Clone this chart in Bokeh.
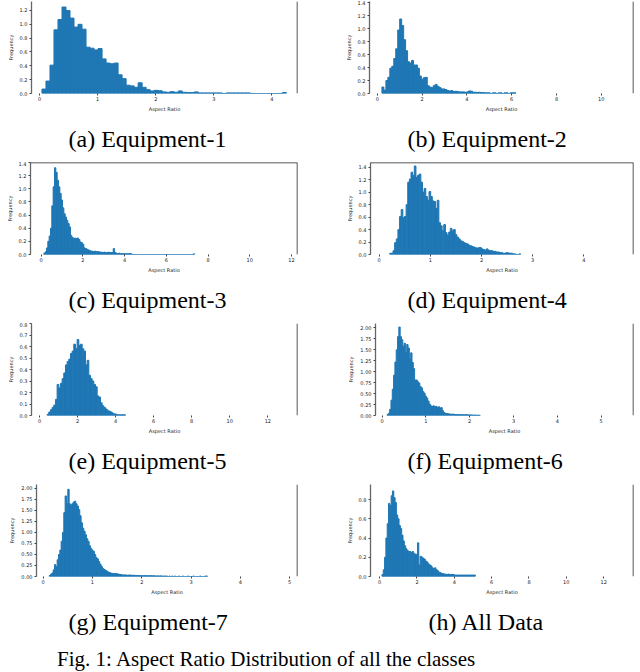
from bokeh.plotting import figure
from bokeh.layouts import column, row
from bokeh.models import (Div, Span, FixedTicker, PrintfTickFormatter,
                          Range1d, Title, ColumnDataSource)
from bokeh.embed import file_html
from bokeh.resources import INLINE

# ---------------- data (bin heights) ----------------
captions = ["(a) Equipment-1", "(b) Equipment-2", "(c) Equipment-3", "(d) Equipment-4",
            "(e) Equipment-5", "(f) Equipment-6", "(g) Equipment-7", "(h) All Data"]
fig_caption = "Fig. 1: Aspect Ratio Distribution of all the classes"
x_label = "Aspect Ratio"
y_label = "Frequency"

a_start, a_width = 0.04, 0.069
a_heights = [0.064, 0.18, 0.41, 0.92, 1.07, 1.25, 1.20, 1.09, 0.96, 1.00, 0.93, 0.67,
             0.655, 0.63, 0.65, 0.50, 0.44, 0.43, 0.44, 0.27, 0.215, 0.12, 0.11, 0.09,
             0.155, 0.09, 0.055, 0.037, 0.046, 0.04, 0.023, 0.018, 0.027, 0.018, 0.037,
             0.018, 0.014, 0.014, 0.023, 0.009, 0.009, 0.009, 0.009, 0.009, 0.009, 0.0,
             0.009, 0.009, 0.009, 0.009, 0.009, 0.009, 0.0, 0.0, 0.0, 0.0, 0.0, 0.0, 0.0,
             0.0, 0.014]
a_xticks = [0, 1, 2, 3, 4]
a_yticks = [0.0, 0.2, 0.4, 0.6, 0.8, 1.0, 1.2]

b_start, b_width = 0.206, 0.088
b_heights = [0.1, 0.05, 0.2, 0.25, 0.39, 0.42, 0.54, 0.69, 0.98, 1.15, 1.05, 0.83, 0.66,
             0.49, 0.47, 0.51, 0.44, 0.44, 0.39, 0.27, 0.22, 0.245, 0.25, 0.12, 0.1, 0.09,
             0.12, 0.14, 0.11, 0.09, 0.07, 0.07, 0.06, 0.045, 0.04, 0.045, 0.03, 0.035,
             0.03, 0.025, 0.025, 0.025, 0.02, 0.025, 0.04, 0.035, 0.02, 0.02, 0.015, 0.02,
             0.015, 0.015, 0.01, 0.01, 0.01, 0.0, 0.01, 0.01, 0.0, 0.01, 0.01, 0.0, 0.01,
             0.01, 0.0, 0.01, 0.01, 0.01]
b_xticks = [0, 2, 4, 6, 8, 10]
b_yticks = [0.0, 0.2, 0.4, 0.6, 0.8, 1.0, 1.2, 1.4]

c_start, c_width = 0.128, 0.064
c_heights = [0.02, 0.04, 0.1, 0.2, 0.28, 0.4, 0.74, 1.03, 1.32, 1.25, 1.13, 1.03, 0.93,
             0.83, 0.71, 0.62, 0.57, 0.52, 0.47, 0.42, 0.29, 0.26, 0.24, 0.25, 0.24, 0.25,
             0.23, 0.19, 0.18, 0.155, 0.1, 0.09, 0.08, 0.07, 0.06, 0.05, 0.05, 0.045, 0.05,
             0.04, 0.045, 0.04, 0.035, 0.035, 0.03, 0.035, 0.03, 0.03, 0.035, 0.03, 0.03,
             0.03, 0.09, 0.03, 0.02, 0.015, 0.02, 0.01, 0.015, 0.01, 0.015, 0.01, 0.01,
             0.01, 0.015, 0.01,
             0.0, 0.0, 0.0, 0.0, 0.0, 0.0, 0.0, 0.0, 0.0, 0.0, 0.0, 0.0, 0.0, 0.0, 0.0, 0.0,
             0.0, 0.0, 0.0, 0.0, 0.0, 0.0, 0.0, 0.0, 0.0, 0.0, 0.0, 0.0, 0.0, 0.0, 0.0, 0.0,
             0.0, 0.0, 0.0, 0.0, 0.0, 0.0, 0.0, 0.0, 0.0, 0.0, 0.0, 0.0, 0.0, 0.0, 0.01]
c_xticks = [0, 2, 4, 6, 8, 10, 12]
c_yticks = [0.0, 0.2, 0.4, 0.6, 0.8, 1.0, 1.2, 1.4]

d_start, d_width = 0.206, 0.032
d_heights = [0.02, 0.02, 0.06, 0.19, 0.25, 0.4, 0.61, 0.72, 0.59, 0.61, 0.8, 1.16, 1.21,
             1.32, 1.27, 1.42, 1.24, 1.27, 1.29, 1.16, 1.0, 1.06, 0.93, 0.87, 1.01, 0.93,
             0.86, 0.85, 0.74, 0.87, 0.51, 0.46, 0.38, 0.48, 0.35, 0.31, 0.36, 0.42, 0.38,
             0.4, 0.32, 0.28, 0.25, 0.22, 0.21, 0.19, 0.18, 0.17, 0.15, 0.14, 0.13, 0.12,
             0.11, 0.10, 0.11, 0.11, 0.09, 0.08, 0.07, 0.09, 0.07, 0.06, 0.06, 0.05, 0.05,
             0.04, 0.04, 0.03, 0.03, 0.02, 0.02, 0.03, 0.025, 0.02, 0.02, 0.01, 0.01, 0.0,
             0.0, 0.01]
d_xticks = [0, 1, 2, 3, 4, 5]
d_yticks = [0.0, 0.2, 0.4, 0.6, 0.8, 1.0, 1.2, 1.4]

e_start, e_width = 0.40, 0.0877
e_heights = [0.01, 0.03, 0.05, 0.07, 0.09, 0.14, 0.27, 0.24, 0.28, 0.32, 0.37, 0.44, 0.47,
             0.49, 0.54, 0.56, 0.62, 0.58, 0.66, 0.61, 0.62, 0.58, 0.56, 0.44, 0.48, 0.35,
             0.32, 0.30, 0.27, 0.25, 0.17, 0.16, 0.11, 0.085, 0.07, 0.056, 0.042, 0.037,
             0.03, 0.02, 0.014, 0.011, 0.006, 0.006, 0.006, 0.006, 0.006]
e_xticks = [0, 2, 4, 6, 8, 10, 12]
e_yticks = [0.0, 0.1, 0.2, 0.3, 0.4, 0.5, 0.6, 0.7, 0.8]

f_start, f_width = 0.113, 0.030
f_heights = [0.02, 0.05, 0.14, 0.35, 0.6, 0.92, 1.22, 1.5, 1.8, 2.02, 1.80, 1.73, 1.58,
             1.65, 1.43, 1.62, 1.54, 1.29, 1.43, 1.21, 1.07, 0.81, 0.81, 0.77, 0.74, 0.66,
             0.63, 0.55, 0.51, 0.44, 0.40, 0.33, 0.26, 0.22, 0.21, 0.22, 0.2, 0.21, 0.18,
             0.2, 0.17, 0.18, 0.11, 0.07, 0.05, 0.045, 0.04, 0.035, 0.03, 0.03, 0.03, 0.025,
             0.02, 0.02, 0.02, 0.02, 0.015, 0.02, 0.015, 0.015, 0.02, 0.015, 0.01, 0.015,
             0.01, 0.01, 0.01, 0.01, 0.005, 0.01, 0.005]
f_xticks = [0, 1, 2, 3, 4, 5]
f_yticks = [0.0, 0.25, 0.5, 0.75, 1.0, 1.25, 1.5, 1.75, 2.0]

g_start, g_width = 0.122, 0.027
g_heights = [0.02, 0.05, 0.08, 0.15, 0.27, 0.22, 0.38, 0.5, 0.6, 0.8, 1.0, 1.45, 1.83,
             1.65, 1.98, 1.65, 1.62, 1.65, 1.69, 1.71, 1.65, 1.6, 1.52, 1.38, 1.22, 1.1,
             1.03, 0.95, 0.86, 0.8, 0.7, 0.64, 0.6, 0.57, 0.5, 0.43, 0.4, 0.34, 0.28, 0.23,
             0.18, 0.16, 0.14, 0.12, 0.1, 0.09, 0.075, 0.07, 0.065, 0.07, 0.06, 0.06, 0.05,
             0.045, 0.04, 0.035, 0.035, 0.035, 0.03, 0.03, 0.035, 0.03, 0.025, 0.03, 0.025,
             0.02, 0.025, 0.02, 0.02, 0.015, 0.02, 0.02, 0.015, 0.02, 0.015, 0.015, 0.02,
             0.015, 0.015, 0.015, 0.01, 0.015, 0.01, 0.015, 0.01, 0.01, 0.01, 0.01, 0.01,
             0.0, 0.01, 0.0, 0.01, 0.0, 0.01, 0.0, 0.0, 0.01, 0.0, 0.0, 0.01, 0.0, 0.0, 0.0,
             0.01, 0.0, 0.0, 0.0, 0.01, 0.0, 0.0, 0.0, 0.0, 0.01, 0.0, 0.0, 0.0, 0.01, 0.01]
g_xticks = [0, 1, 2, 3, 4, 5]
g_yticks = [0.0, 0.25, 0.5, 0.75, 1.0, 1.25, 1.5, 1.75, 2.0]

h_start, h_width = 0.123, 0.0705
h_heights = [0.02, 0.07, 0.2, 0.4, 0.55, 0.76, 0.74, 0.84, 0.89, 0.82, 0.77, 0.64, 0.6,
             0.53, 0.5, 0.43, 0.37, 0.32, 0.29, 0.27, 0.26, 0.26, 0.25, 0.26, 0.24, 0.23,
             0.23, 0.35, 0.12, 0.21, 0.2, 0.19, 0.18, 0.16, 0.15, 0.13, 0.12, 0.11, 0.09,
             0.08, 0.09, 0.07, 0.06, 0.045, 0.04, 0.03, 0.03, 0.025, 0.025, 0.02, 0.025,
             0.02, 0.02, 0.02, 0.02, 0.015, 0.015, 0.015, 0.015, 0.015, 0.015, 0.015, 0.015,
             0.015, 0.015, 0.015, 0.015, 0.015, 0.015, 0.015, 0.015]
h_xticks = [0, 2, 4, 6, 8, 10, 12]
h_yticks = [0.0, 0.2, 0.4, 0.6, 0.8]

# ---------------- styling ----------------
BLUE = "#1f77b4"
TICK_FONT = "DejaVu Sans"
CAP_FONT = "Liberation Serif"
ROW_H = 161


def make_panel(caption, start, width, heights, xr, yr, xticks, yticks, yfmt,
               w, bl, br, top_line, cap_offset):
    n = len(heights)
    lefts = [start + i * width for i in range(n)]
    src = ColumnDataSource(dict(left=lefts, right=[x + width for x in lefts],
                                top=heights, bottom=[0.0] * n))
    p = figure(width=w, height=ROW_H, x_range=Range1d(xr[0], xr[1]),
               y_range=Range1d(yr[0], yr[1]), output_backend="svg",
               toolbar_location=None, min_border_left=bl, min_border_right=br,
               min_border_top=1, min_border_bottom=65)
    p.quad(left="left", right="right", top="top", bottom="bottom", source=src,
           fill_color=BLUE, line_color=BLUE, line_width=1.0)
    p.grid.visible = False
    p.outline_line_color = None

    xa = p.xaxis[0]
    xa.ticker = FixedTicker(ticks=xticks)
    xa.axis_line_color = None
    xa.major_tick_line_color = "#444444"
    xa.major_tick_out = 2
    xa.major_tick_in = 0
    xa.minor_tick_line_color = None
    xa.major_label_text_font = TICK_FONT
    xa.major_label_text_font_size = "5px"
    xa.major_label_text_color = "#222222"
    xa.major_label_standoff = 1
    xa.axis_label = x_label
    xa.axis_label_text_font = TICK_FONT
    xa.axis_label_text_font_size = "5px"
    xa.axis_label_text_font_style = "normal"
    xa.axis_label_text_color = "#222222"
    xa.axis_label_standoff = 2

    ya = p.yaxis[0]
    ya.ticker = FixedTicker(ticks=yticks)
    ya.formatter = PrintfTickFormatter(format=yfmt)
    ya.axis_line_color = "#666666"
    ya.axis_line_width = 1.3
    ya.major_tick_line_color = "#444444"
    ya.major_tick_out = 2
    ya.major_tick_in = 0
    ya.minor_tick_line_color = None
    ya.major_label_text_font = TICK_FONT
    ya.major_label_text_font_size = "5px"
    ya.major_label_text_color = "#222222"
    ya.major_label_standoff = 2
    ya.axis_label = y_label
    ya.axis_label_text_font = TICK_FONT
    ya.axis_label_text_font_size = "5px"
    ya.axis_label_text_font_style = "normal"
    ya.axis_label_text_color = "#222222"
    ya.axis_label_standoff = 3

    p.add_layout(Span(location=xr[1], dimension="height", line_color="#222222",
                      line_width=1.5))
    if top_line:
        p.add_layout(Span(location=yr[1], dimension="width", line_color="#222222",
                          line_width=1.5))

    p.add_layout(Title(text=caption, align="left", offset=cap_offset,
                       text_font=CAP_FONT, text_font_size="24px",
                       text_font_style="normal", text_color="black", standoff=19),
                 "below")
    return p


LW, RW = 320, 316
pa = make_panel(captions[0], a_start, a_width, a_heights, (-0.14, 4.44), (0, 1.33),
                a_xticks, a_yticks, "%.1f", LW, 31, 23, False, 37)
pb = make_panel(captions[1], b_start, b_width, b_heights, (-0.35, 11.44), (0, 1.42),
                b_xticks, b_yticks, "%.1f", RW, 49, 3, False, 38)
pc = make_panel(captions[2], c_start, c_width, c_heights, (-0.51, 12.29), (0, 1.40),
                c_xticks, c_yticks, "%.1f", LW, 30, 23, True, 38)
pd = make_panel(captions[3], d_start, d_width, d_heights, (-0.17, 4.97), (0, 1.476),
                d_xticks, d_yticks, "%.1f", RW, 50, 3, True, 37)
pe = make_panel(captions[4], e_start, e_width, e_heights, (-0.42, 13.56), (0, 0.80),
                e_xticks, e_yticks, "%.1f", LW, 31, 23, False, 37)
pf = make_panel(captions[5], f_start, f_width, f_heights, (-0.15, 5.74), (0, 2.10),
                f_xticks, f_yticks, "%.2f", RW, 55, 3, False, 32)
pg = make_panel(captions[6], g_start, g_width, g_heights, (-0.135, 5.16), (0, 2.09),
                g_xticks, g_yticks, "%.2f", LW, 36, 23, False, 32)
ph = make_panel(captions[7], h_start, h_width, h_heights, (-0.49, 13.6), (0, 0.957),
                h_xticks, h_yticks, "%.1f", RW, 50, 3, False, 58)

cap = Div(text=fig_caption, width=560, height=20,
          styles={"font-family": "'Liberation Serif'", "font-size": "21px",
                  "color": "black", "padding-left": "52px", "white-space": "nowrap",
                  "line-height": "20px"})

layout = column(row(pa, pb), row(pc, pd), row(pe, pf), row(pg, ph), cap)

open("out.html", "w").write(file_html(layout, INLINE))
